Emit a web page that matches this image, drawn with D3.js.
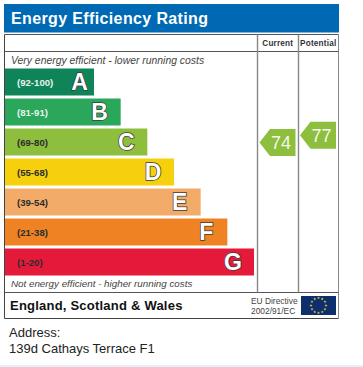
<!DOCTYPE html>
<html>
<head>
<meta charset="utf-8">
<script src="https://cdn.jsdelivr.net/npm/d3@7"></script>
<style>
  html, body { margin: 0; padding: 0; background: #fff; }
  svg { display: block; }
  text { font-family: "Liberation Sans", Arial, sans-serif; }
</style>
</head>
<body>
<div id="chart"></div>
<script>
// chart data
var bandLetters = ["A", "B", "C", "D", "E", "F", "G"];
var bandRanges = ["(92-100)", "(81-91)", "(69-80)", "(55-68)", "(39-54)", "(21-38)", "(1-20)"];
var bandLow = [92, 81, 69, 55, 39, 21, 1];
var bandHigh = [100, 91, 80, 68, 54, 38, 20];
var bandColors = ["#0e8458", "#2aa75b", "#8dbe3e", "#f6d00d", "#f3ab69", "#ef8223", "#e51a3b"];
var ratingNames = ["Current", "Potential"];
var ratingScores = [74, 77];
var titleText = "Energy Efficiency Rating";
var topNote = "Very energy efficient - lower running costs";
var bottomNote = "Not energy efficient - higher running costs";
var regionText = "England, Scotland & Wales";
var directiveLines = ["EU Directive", "2002/91/EC"];
var addressLines = ["Address:", "139d Cathays Terrace F1"];

var width = 363, height = 367;

var svg = d3.select("#chart")
  .append("svg")
  .attr("width", width)
  .attr("height", height);

// page strip at the very bottom
svg.append("rect")
  .attr("x", 0).attr("y", 365)
  .attr("width", width).attr("height", 2)
  .attr("fill", "#e4f1fa");

// title banner
svg.append("rect")
  .attr("x", 4).attr("y", 4)
  .attr("width", 335).attr("height", 28.5)
  .attr("fill", "#0069b3");
svg.append("text")
  .attr("x", 11).attr("y", 23.5)
  .attr("fill", "#fff")
  .attr("font-weight", "bold")
  .attr("font-size", "16px")
  .attr("letter-spacing", "0.37px")
  .text(titleText);

// scales
var yBand = d3.scaleBand()
  .domain(bandLetters)
  .range([67, 277])
  .paddingInner(0.1)
  .paddingOuter(0.05);

var xStep = d3.scaleLinear()
  .domain([0, bandLetters.length - 1])
  .range([94, 254]);

var xColumn = d3.scaleBand()
  .domain(ratingNames)
  .range([257.5, 338.5]);

// bars
var bars = svg.append("g").selectAll("g")
  .data(bandLetters)
  .enter()
  .append("g");

bars.append("rect")
  .attr("x", 5)
  .attr("y", function (d) { return yBand(d); })
  .attr("width", function (d, i) { return xStep(i) - 5; })
  .attr("height", yBand.bandwidth())
  .attr("fill", function (d, i) { return bandColors[i]; });

bars.append("text")
  .attr("x", 17)
  .attr("y", function (d) { return yBand(d) + yBand.bandwidth() / 2 + 3.5; })
  .attr("fill", function (d, i) { return i == 0 || i == 1 ? "#e8f3ec" : "#2c2c2c"; })
  .attr("font-weight", "bold")
  .attr("font-size", "9.6px")
  .text(function (d, i) { return bandRanges[i]; });

// the A sits closer to its bar end than the other letters
bars.append("text")
  .attr("x", function (d, i) { return xStep(i) - (i == 0 ? 14.5 : 21); })
  .attr("y", function (d) { return yBand(d) + yBand.bandwidth() / 2 + 8; })
  .attr("text-anchor", "middle")
  .attr("fill", "#fff")
  .attr("stroke", "#3c3c3c")
  .attr("stroke-width", 1.5)
  .attr("paint-order", "stroke")
  .attr("font-weight", "bold")
  .attr("font-size", "23px")
  .text(function (d) { return d; });

// notes
svg.append("text")
  .attr("x", 11).attr("y", 63.5)
  .attr("fill", "#444")
  .attr("font-style", "italic")
  .attr("font-size", "10.4px")
  .text(topNote);
svg.append("text")
  .attr("x", 11).attr("y", 287)
  .attr("fill", "#444")
  .attr("font-style", "italic")
  .attr("font-size", "9.8px")
  .text(bottomNote);

// frame and column rules
var frame = svg.append("g").attr("fill", "none");
frame.append("path")
  .attr("d", "M4.5,34.5V318.5H338.5")
  .attr("stroke", "#444");
frame.append("path")
  .attr("d", "M338.5,34.5V318.5")
  .attr("stroke", "#888");
frame.append("path")
  .attr("d", "M4.5,34.5H338.5M4.5,51.5H338.5M4.5,292.5H338.5")
  .attr("stroke", "#555");
frame.append("path")
  .attr("d", "M257.5,34.5V292.5M298.5,34.5V292.5")
  .attr("stroke", "#888")
  .attr("stroke-width", 1.4);

// column headers
svg.append("g").selectAll("text")
  .data(ratingNames)
  .enter()
  .append("text")
  .attr("x", function (d) { return xColumn(d) + xColumn.bandwidth() / 2; })
  .attr("y", 46)
  .attr("text-anchor", "middle")
  .attr("fill", "#333")
  .attr("font-weight", "bold")
  .attr("font-size", "8.2px")
  .attr("letter-spacing", "0.2px")
  .text(function (d) { return d; });

// rating arrows sit inside their band by score
var arrowLine = d3.line();
var arrows = svg.append("g").selectAll("g")
  .data(ratingScores)
  .enter()
  .append("g");

arrows.each(function (score, i) {
  var b = bandLetters.findIndex(function (l, j) { return score >= bandLow[j] && score <= bandHigh[j]; });
  var yScore = d3.scaleLinear()
    .domain([bandLow[b], bandHigh[b]])
    .range([yBand(bandLetters[b]) + yBand.bandwidth() - 1, yBand(bandLetters[b]) - 0.5]);
  var cy = yScore(score);
  var x0 = xColumn(ratingNames[i]) + 2;
  var x1 = x0 + 10.5;
  var x2 = x0 + 36;
  var g = d3.select(this);
  g.append("path")
    .attr("d", arrowLine([[x0, cy], [x1, cy - 13.5], [x2, cy - 13.5], [x2, cy + 13.5], [x1, cy + 13.5]]) + "Z")
    .attr("fill", bandColors[b]);
  g.append("text")
    .attr("x", x0 + 21.5)
    .attr("y", cy + 6.5)
    .attr("text-anchor", "middle")
    .attr("fill", "#f4f8ea")
    .attr("font-size", "18px")
    .text(score);
});

// footer
svg.append("text")
  .attr("x", 10).attr("y", 310)
  .attr("fill", "#111")
  .attr("font-weight", "bold")
  .attr("font-size", "13px")
  .attr("letter-spacing", "0.22px")
  .text(regionText);

svg.append("g").selectAll("text")
  .data(directiveLines)
  .enter()
  .append("text")
  .attr("x", 251)
  .attr("y", function (d, i) { return 304 + i * 10; })
  .attr("fill", "#444")
  .attr("font-size", "8.4px")
  .text(function (d) { return d; });

// EU flag
svg.append("rect")
  .attr("x", 301).attr("y", 296)
  .attr("width", 35).attr("height", 19)
  .attr("fill", "#0d2f6e");
var starAngle = d3.scaleLinear().domain([0, 12]).range([0, 2 * Math.PI]);
svg.append("g").selectAll("path")
  .data(d3.range(12))
  .enter()
  .append("path")
  .attr("d", d3.symbol().type(d3.symbolStar).size(3))
  .attr("transform", function (d) {
    return "translate(" + (318.5 + 7.5 * Math.sin(starAngle(d))) + "," + (305.5 - 7.5 * Math.cos(starAngle(d))) + ")";
  })
  .attr("fill", "#e8c932");

// address
svg.append("g").selectAll("text")
  .data(addressLines)
  .enter()
  .append("text")
  .attr("x", 9)
  .attr("y", function (d, i) { return 337 + i * 16; })
  .attr("fill", "#222")
  .attr("font-size", "13px")
  .text(function (d) { return d; });
</script>
</body>
</html>
